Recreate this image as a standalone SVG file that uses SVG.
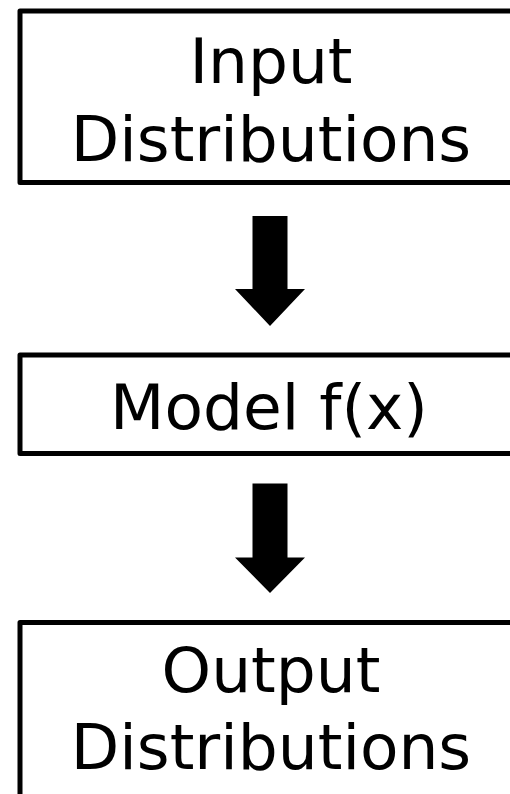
<svg xmlns="http://www.w3.org/2000/svg" width="510" height="794" viewBox="0 0 510 794">
  <style>
    .box { fill: #ffffff; stroke: #000000; stroke-width: 5; stroke-linejoin: round; }
    .label { font-family: "DejaVu Sans", Verdana, sans-serif; font-size: 63px; fill: #000000; text-anchor: middle; }
    .arrow { fill: #000000; stroke: none; }
  </style>
  <rect x="0" y="0" width="510" height="794" fill="#ffffff"/>

  <g id="input-distributions">
    <rect class="box" x="20" y="11" width="510" height="171.5"/>
    <text class="label" x="271" y="83">Input</text>
    <text class="label" x="271" y="160.5">Distributions</text>
  </g>

  <g id="model">
    <rect class="box" x="20" y="355" width="510" height="98.5"/>
    <text class="label" x="269" y="429">Model f(x)</text>
  </g>

  <g id="output-distributions">
    <rect class="box" x="20" y="622.5" width="510" height="200"/>
    <text class="label" x="271" y="692">Output</text>
    <text class="label" x="271" y="769">Distributions</text>
  </g>

  <g id="connectors">
    <polygon class="arrow" points="252.5,216 287.5,216 287.5,289 305,289 270,326 235,289 252.5,289"/>
    <polygon class="arrow" points="252.5,483.5 287.5,483.5 287.5,557.5 305,557.5 270,593 235,557.5 252.5,557.5"/>
  </g>
</svg>
